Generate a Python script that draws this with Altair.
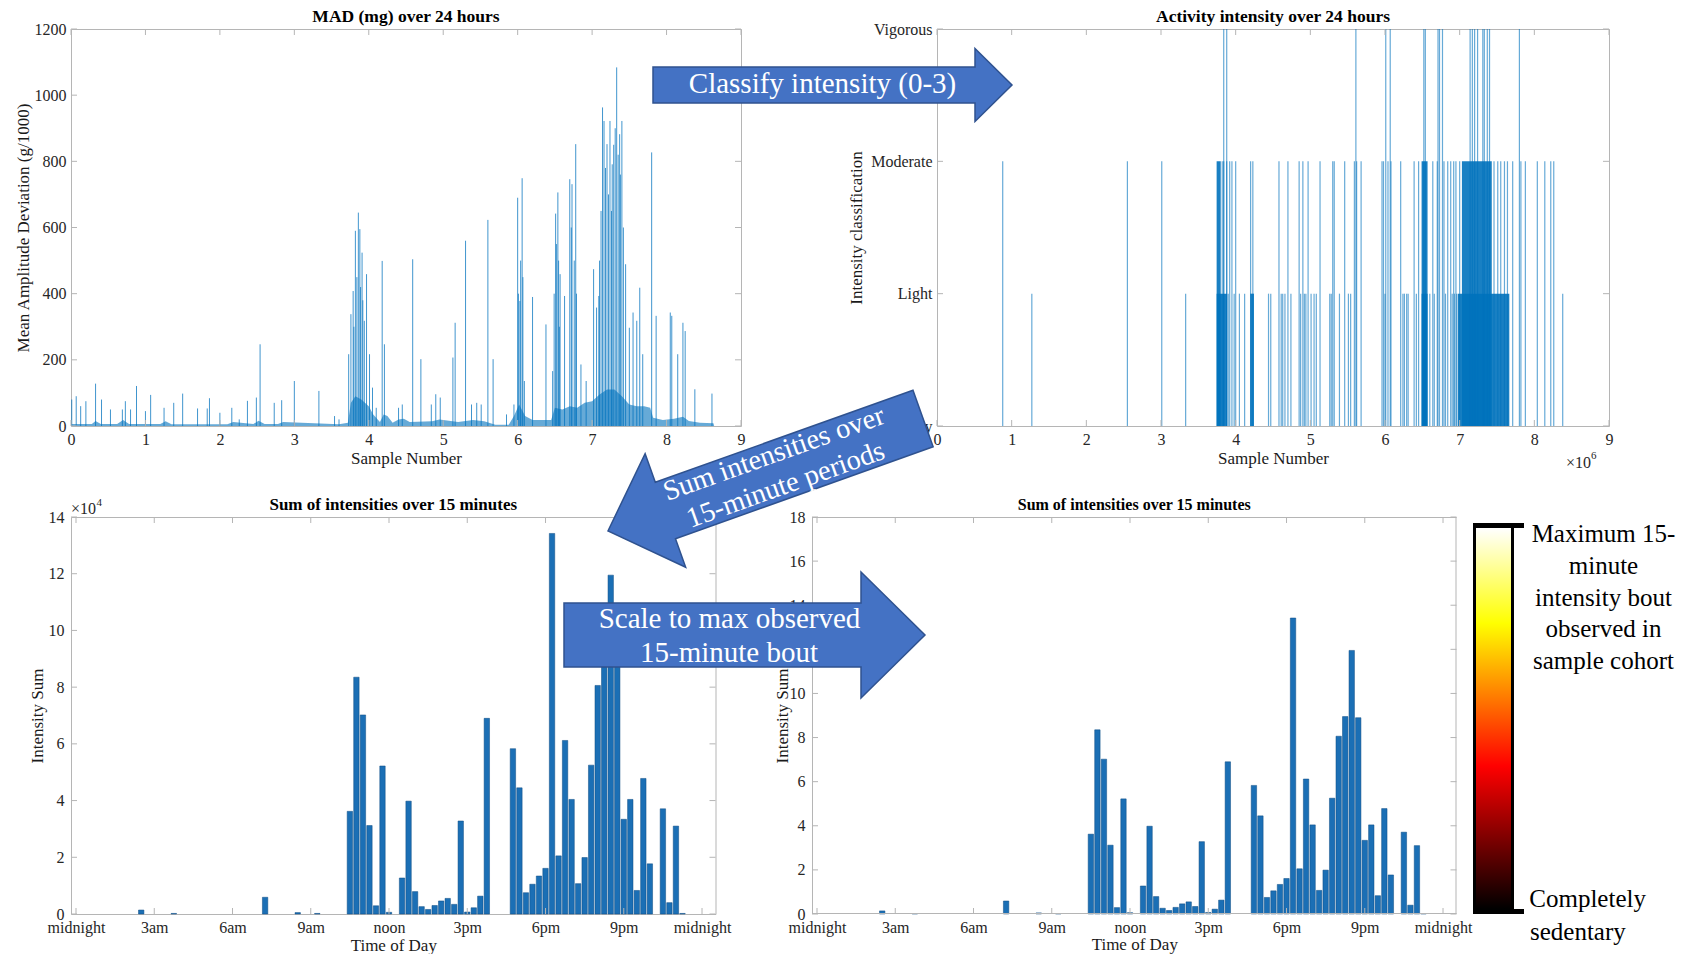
import altair as alt
import pandas as pd

SERIF = "Liberation Serif"
LINE_BLUE = "#0072BD"
BAR_FILL = "#1b6fb5"
BAR_EDGE = "#0d4a80"
FRAME = "#b5b5b5"
LABEL = "#262626"
ARROW_FILL = "#4472C4"
ARROW_EDGE = "#2F528F"

# ---------------- data ----------------
# Panel 1: MAD spikes (x in units of 1e6 samples, peak in mg)
mad_spike_x = [0.01, 0.07, 0.13, 0.20, 0.33, 0.41, 0.53, 0.69, 0.73, 0.80,
               0.88, 1.00, 1.07, 1.25, 1.38, 1.50, 1.70, 1.83, 1.86, 2.00,
               2.16, 2.26, 2.37, 2.49, 2.54, 2.73, 2.83, 3.00, 3.33, 3.54, 3.60,
               3.73, 3.76, 3.79, 3.82, 3.86, 3.88, 3.91, 3.94, 3.97, 4.01,
               4.05, 4.10, 4.18, 4.21, 4.40, 4.45,
               4.59, 4.70, 4.84, 4.90, 4.96, 5.13, 5.16, 5.30, 5.38, 5.45,
               5.51, 5.60, 5.67, 5.85, 5.95, 6.00, 6.03, 6.06, 6.09, 6.20,
               6.38, 6.47, 6.51, 6.54, 6.57, 6.63, 6.70, 6.73, 6.78, 6.85,
               6.92, 7.02, 7.06, 7.09, 7.14, 7.16, 7.20, 7.24, 7.27, 7.33,
               7.37, 7.40, 7.45, 7.50, 7.55, 7.60, 7.64, 7.68, 7.80, 7.86,
               8.05, 8.07, 8.15, 8.22, 8.25, 8.38, 8.61,
               3.80, 3.84, 3.89, 3.92, 6.01, 6.04, 6.07, 6.49, 6.52, 6.55, 6.56,
               6.72, 6.76, 6.79, 7.10, 7.12, 7.18, 7.22, 7.26, 7.29, 7.31, 7.35,
               7.38, 7.42]
mad_spike_peak = [80, 90, 60, 75, 128, 80, 50, 50, 75, 50,
                  121, 45, 94, 55, 70, 98, 53, 53, 84, 40,
                  55, 20, 76, 86, 247, 70, 78, 136, 106, 30, 20,
                  217, 338, 408, 590, 645, 595, 524, 318, 459, 217,
                  116, 55, 499, 247, 55, 65,
                  504, 202, 65, 96, 86, 207, 312, 560, 65, 70,
                  65, 623, 202, 35, 65, 690, 378, 749, 136, 390,
                  307, 166, 642, 706, 459, 393, 746, 731, 852, 186,
                  136, 474, 358, 393, 963, 922, 852, 922, 791, 1084,
                  882, 922, 489, 297, 343, 318, 418, 217, 827, 333,
                  343, 333, 217, 312, 287, 111, 98,
                  300, 450, 420, 380, 400, 500, 450, 400, 550, 500, 300,
                  600, 500, 400, 500, 650, 780, 700, 650, 850, 900, 820,
                  760, 600]
# dense low-level band under the spikes
mad_floor_x = [0.00, 0.28, 0.33, 0.40, 0.62, 0.70, 0.78, 1.20, 1.27, 1.35,
               2.10, 2.18, 2.45, 2.52, 2.60, 2.78, 2.85, 3.60, 3.72, 3.76,
               3.82, 3.90, 4.00, 4.06, 4.15, 4.20, 4.25, 4.32, 4.40, 4.47,
               4.55, 4.85, 4.95, 5.20, 5.40, 5.55, 5.70, 5.88, 5.95, 6.02,
               6.10, 6.20, 6.45, 6.50, 6.60, 6.70, 6.80, 6.90, 7.00, 7.10,
               7.20, 7.30, 7.40, 7.50, 7.60, 7.70, 7.78, 7.82, 7.95, 8.10,
               8.22, 8.30, 8.45, 8.63, 8.64]
mad_floor_level = [6, 6, 15, 6, 6, 18, 6, 6, 14, 5,
                   5, 12, 6, 16, 6, 6, 12, 5, 10, 70,
                   90, 80, 60, 35, 12, 35, 30, 10, 20, 22,
                   12, 14, 20, 12, 18, 14, 4, 4, 30, 65,
                   30, 18, 18, 55, 50, 60, 55, 70, 75, 95,
                   110, 110, 90, 65, 60, 60, 55, 25, 18, 22,
                   28, 15, 10, 8, 0]
sample_ticks = [0, 1, 2, 3, 4, 5, 6, 7, 8, 9]
mad_ticks = [0, 200, 400, 600, 800, 1000, 1200]

# Panel 2: intensity class lines (0 sedentary .. 3 vigorous)
light_only_x = [1.27, 3.33, 3.90, 3.98, 4.05, 4.12, 4.44, 4.47, 4.61, 4.63,
                4.66, 4.74, 4.87, 4.92, 4.94, 5.01, 5.05, 5.08, 5.26, 5.28,
                5.39, 5.51, 5.54, 6.00, 6.24, 6.26, 6.29, 6.31, 6.42, 6.60,
                6.66, 6.81, 6.90, 6.93, 6.96, 8.38]
moderate_x = [0.88, 2.55, 3.01, 3.82, 3.84, 3.88, 3.92, 3.95, 4.00, 4.20,
              4.23, 4.58, 4.70, 4.85, 4.90, 4.97, 5.13, 5.30, 5.32, 5.46,
              5.59, 5.62, 5.68, 5.96, 5.98, 6.04, 6.08, 6.21, 6.39, 6.45,
              6.64, 6.70, 6.79, 6.84, 6.88, 6.92, 6.95, 7.00, 7.46, 7.51,
              7.55, 7.60, 7.64, 7.71, 7.82, 7.88, 8.04, 8.14, 8.22, 8.26]
vigorous_x = [3.84, 3.88, 5.61, 6.01, 6.07, 6.52, 6.54, 6.71, 6.73, 6.77,
              7.14, 7.17, 7.20, 7.24, 7.31, 7.33, 7.37, 7.40, 7.80]
dense_start = [3.745, 3.745, 4.195, 6.49, 6.49, 6.975, 7.03]
dense_end = [3.80, 3.885, 4.245, 6.57, 6.57, 7.665, 7.43]
dense_level = [2, 1, 1, 2, 1, 1, 2]
class_ticks = [0, 1, 2, 3]
class_names = ["Sedentary", "Light", "Moderate", "Vigorous"]

# Panels 3 and 4: sum of intensities per 15-minute slot (units of 1e4)
intensity_sum = [0, 0, 0, 0, 0, 0, 0, 0, 0, 0, 0.14, 0,
                 0, 0, 0, 0.02, 0, 0, 0, 0, 0, 0, 0, 0,
                 0, 0, 0, 0, 0, 0.59, 0, 0, 0, 0, 0.05, 0,
                 0, 0.02, 0, 0, 0, 0, 3.62, 8.35, 7.02, 3.12, 0.29, 5.22,
                 0.06, 0, 1.27, 3.98, 0.79, 0.26, 0.16, 0.30, 0.46, 0.55, 0.34, 3.28,
                 0.07, 0.22, 0.63, 6.90, 0, 0, 0, 5.83, 4.45, 0.75, 1.05, 1.34,
                 1.61, 13.42, 2.05, 6.12, 4.04, 1.07, 1.99, 5.25, 8.06, 8.95, 11.95, 8.90,
                 3.34, 4.04, 0.83, 4.78, 1.77, 0, 3.71, 0.40, 3.10, 0.02, 0, 0]
slot_index = list(range(len(intensity_sum)))
time_ticks = [0, 12, 24, 36, 48, 60, 72, 84, 96]
time_names = ["midnight", "3am", "6am", "9am", "noon", "3pm", "6pm", "9pm", "midnight"]
sum_ticks_a = [0, 2, 4, 6, 8, 10, 12, 14]
sum_ticks_b = [0, 2, 4, 6, 8, 10, 12, 14, 16, 18]

# ---------------- helpers ----------------
ONE = alt.Data(values=[{"k": 0}])


def js_list(items):
    return "[" + ",".join('"' + s + '"' for s in items) + "]"


def tick_rules(X, Y, xt, yt, x0, x1, h, L=6):
    xdf = pd.DataFrame({"x": xt})
    ydf = pd.DataFrame({"y": yt})
    m = dict(color=FRAME, strokeWidth=1)
    return [
        alt.Chart(xdf).mark_rule(**m).encode(x=X, y=alt.value(0), y2=alt.value(L)),
        alt.Chart(xdf).mark_rule(**m).encode(x=X, y=alt.value(h - L), y2=alt.value(h)),
        alt.Chart(ydf).mark_rule(**m).encode(y=Y, x=alt.value(x0), x2=alt.value(x0 + L)),
        alt.Chart(ydf).mark_rule(**m).encode(y=Y, x=alt.value(x1 - L), x2=alt.value(x1)),
    ]


def txt(s, x, y, size, color="white", align="center", angle=0, weight="normal"):
    kw = dict(text=s, font=SERIF, fontSize=size, color=color, align=align,
              baseline="middle", fontWeight=weight)
    if angle:
        kw["angle"] = angle
    return alt.Chart(ONE).mark_text(**kw).encode(x=alt.value(x), y=alt.value(y))


def panel_title(s, cx, size):
    return txt(s, cx, -12, size, color="#000000", weight="bold")


def arrow(path, x, y, angle=0):
    kw = dict(shape=path, size=4, filled=True, fill=ARROW_FILL, stroke=ARROW_EDGE,
              strokeWidth=1.5, opacity=1, fillOpacity=1, strokeOpacity=1)
    if angle:
        kw["angle"] = angle
    return alt.Chart(ONE).mark_point(**kw).encode(x=alt.value(x), y=alt.value(y))


def box(x1, x2, y1, y2, fill):
    return alt.Chart(ONE).mark_rect(fill=fill, strokeWidth=0).encode(
        x=alt.value(x1), x2=alt.value(x2), y=alt.value(y1), y2=alt.value(y2))


def frame_lines(x0, x1, h):
    m = dict(color=FRAME, strokeWidth=1)
    return [
        alt.Chart(ONE).mark_rule(**m).encode(x=alt.value(x0), x2=alt.value(x1), y=alt.value(0.5)),
        alt.Chart(ONE).mark_rule(**m).encode(x=alt.value(x0), x2=alt.value(x1), y=alt.value(h - 0.5)),
        alt.Chart(ONE).mark_rule(**m).encode(x=alt.value(x0 + 0.5), y=alt.value(0), y2=alt.value(h)),
        alt.Chart(ONE).mark_rule(**m).encode(x=alt.value(x1 - 0.5), y=alt.value(0), y2=alt.value(h)),
    ]


def left_axis(values, title, tx, h, pad, fmt=None, expr=None, offset=0):
    kw = dict(values=values, labelPadding=pad, title=title, titleX=tx, titleY=h / 2,
              titleAngle=270, titleAlign="center", titleBaseline="middle")
    if fmt:
        kw["format"] = fmt
    if expr:
        kw["labelExpr"] = expr
    if offset:
        kw["offset"] = offset
    return alt.Axis(**kw)


def bottom_axis(values, title, cx, ty, fmt=None, expr=None):
    kw = dict(values=values, labelPadding=5, title=title, titleX=cx, titleY=ty,
              titleAlign="center", titleBaseline="middle")
    if fmt:
        kw["format"] = fmt
    if expr:
        kw["labelExpr"] = expr
    return alt.Axis(**kw)


H = 397

# ---------------- panel 1 ----------------
W1 = 670
X1 = alt.X("x:Q", scale=alt.Scale(domain=[0, 9], nice=False, zero=False),
           axis=bottom_axis(sample_ticks, "Sample Number", W1 / 2, 32.5, fmt="d"))
Y1 = alt.Y("y:Q", scale=alt.Scale(domain=[0, 1200], nice=False),
           axis=left_axis(mad_ticks, "Mean Amplitude Deviation (g/1000)", -47.5, H, 5, fmt="d"))
floor_df = pd.DataFrame({"x": mad_floor_x, "y": mad_floor_level})
spike_df = pd.DataFrame({"x": mad_spike_x, "y": mad_spike_peak})
anchor = box(-70, -69, -28, -27, "#ffffff")
p1 = alt.layer(
    alt.Chart(floor_df).mark_area(color=LINE_BLUE, opacity=0.6).encode(x=X1, y=Y1),
    alt.Chart(spike_df).mark_rule(color=LINE_BLUE, strokeWidth=1, opacity=0.75).encode(
        x=X1, y=Y1, y2=alt.datum(0)),
    *tick_rules(X1, Y1, sample_ticks, mad_ticks, 0, W1, H),
    panel_title("MAD (mg) over 24 hours", W1 / 2, 17.5),
    anchor,
).properties(width=W1, height=H)

# ---------------- panel 2 ----------------
W2 = 672
X2 = alt.X("x:Q", scale=alt.Scale(domain=[0, 9], nice=False, zero=False),
           axis=bottom_axis(sample_ticks, "Sample Number", W2 / 2, 32.5, fmt="d"))
Y2 = alt.Y("y:Q", scale=alt.Scale(domain=[0, 3], nice=False),
           axis=left_axis(class_ticks, "Intensity classification", -80.5, H, 5,
                          expr=js_list(class_names) + "[round(datum.value)]"))
class_df = pd.DataFrame({
    "x": light_only_x + moderate_x + vigorous_x,
    "y": [1] * len(light_only_x) + [2] * len(moderate_x) + [3] * len(vigorous_x),
})
dense_df = pd.DataFrame({"x": dense_start, "x_end": dense_end, "y": dense_level})
p2 = alt.layer(
    alt.Chart(dense_df).mark_rect(color=LINE_BLUE, opacity=0.9).encode(
        x=X2, x2="x_end:Q", y=Y2, y2=alt.datum(0)),
    alt.Chart(class_df).mark_rule(color=LINE_BLUE, strokeWidth=1.2, opacity=0.6).encode(
        x=X2, y=Y2, y2=alt.datum(0)),
    *tick_rules(X2, Y2, sample_ticks, class_ticks, 0, W2, H),
    panel_title("Activity intensity over 24 hours", W2 / 2, 17.5),
    txt("\u00d710", 629, 434, 16, color=LABEL, align="left"),
    txt("6", 654, 427, 11, color=LABEL, align="left"),
).properties(width=W2, height=H)

# ---------------- panels 3 and 4 ----------------
W3 = 644.5
bars_df = pd.DataFrame({"x": slot_index, "y": intensity_sum})
time_expr = js_list(time_names) + "[round(datum.value/12)]"


def bar_panel(yticks, ytitle_x, title_size, xtitle_y, x0, extra):
    """Bar panel whose plot frame runs from x0 to x0 + W3 inside its view."""
    x1 = x0 + W3
    X = alt.X("x:Q", scale=alt.Scale(domain=[0, 97.3], nice=False, zero=False, range=[x0, x1]),
              axis=bottom_axis(time_ticks, "Time of Day", x0 + W3 / 2, xtitle_y, expr=time_expr))
    Y = alt.Y("y:Q", scale=alt.Scale(domain=[0, yticks[-1]], nice=False),
              axis=left_axis(yticks, "Intensity Sum", ytitle_x, H, 7, fmt="d", offset=-x0))
    bars = alt.Chart(bars_df).transform_filter("datum.y > 0").mark_bar(
        size=5.4, color=BAR_FILL, stroke=BAR_EDGE, strokeWidth=0.5).encode(x=X, y=Y)
    layers = [bars, *tick_rules(X, Y, time_ticks, yticks, x0, x1, H),
              panel_title("Sum of intensities over 15 minutes", x0 + W3 / 2, title_size)]
    if x0:
        layers += frame_lines(x0, x1, H)
    return layers + extra


p3 = alt.layer(*bar_panel(sum_ticks_a, -33.7, 17, 31, 0, [
    txt("\u00d710", 0, -8.5, 16, color=LABEL, align="left"),
    txt("4", 25.5, -14, 11, color=LABEL, align="left"),
])).properties(width=W3, height=H)

# Panel 4 shares the second grid column with panel 2; its frame starts 125 px further left.
X0_4 = -125
ARROW_RIGHT_1 = "M-179.5,-18L142.5,-18L142.5,-36.5L179.5,0L142.5,36.5L142.5,18L-179.5,18Z"
ARROW_LEFT_2 = "M-167.3,0L-106.3,-60.3L-106.3,-30L167.3,-30L167.3,30L-106.3,30L-106.3,60.3Z"
ARROW_RIGHT_3 = "M-180.5,-32L116.5,-32L116.5,-63L180.5,0L116.5,63L116.5,32L-180.5,32Z"
hot_gradient = {
    "gradient": "linear", "x1": 0, "y1": 1, "x2": 0, "y2": 0,
    "stops": [
        {"offset": 0.0, "color": "#000000"},
        {"offset": 0.375, "color": "#ff0000"},
        {"offset": 0.75, "color": "#ffff00"},
        {"offset": 1.0, "color": "#ffffff"},
    ],
}
ROT = 340.35
d = X0_4
annotations = [
    arrow(ARROW_RIGHT_1, d + 20.5, -432),
    txt("Classify intensity (0-3)", d + 10.5, -433, 29),
    arrow(ARROW_LEFT_2, d - 46.5, -42.25, ROT),
    txt("Sum intensities over", d - 38.3, -63.5, 28.5, angle=ROT),
    txt("15-minute periods", d - 26.5, -32.5, 28.5, angle=ROT),
    arrow(ARROW_RIGHT_3, d - 67.5, 118),
    txt("Scale to max observed", d - 82.5, 102, 29),
    txt("15-minute bout", d - 83, 136, 29),
    box(d + 664, d + 699, 11, 392, hot_gradient),
    box(d + 661, d + 664, 6, 397, "#000000"),
    box(d + 699, d + 702, 6, 397, "#000000"),
    box(d + 661, d + 712, 6, 11, "#000000"),
    box(d + 661, d + 712, 392, 397, "#000000"),
    txt("Maximum 15-", d + 791.5, 17.3, 25, color="#000000"),
    txt("minute", d + 791.5, 49, 25, color="#000000"),
    txt("intensity bout", d + 791.5, 80.7, 25, color="#000000"),
    txt("observed in", d + 791.5, 112.3, 25, color="#000000"),
    txt("sample cohort", d + 791.5, 144, 25, color="#000000"),
    txt("Completely", d + 717.3, 382.3, 25, color="#000000", align="left"),
    txt("sedentary", d + 718, 414.7, 25, color="#000000", align="left"),
]
p4 = alt.layer(*bar_panel(sum_ticks_b, -30, 16, 30, X0_4, annotations)).properties(
    width=W3 + X0_4, height=H, view=alt.ViewBackground(strokeOpacity=0))

chart = alt.concat(
    p1, p2, p3, p4,
    columns=2,
    spacing={"row": 91, "column": 196},
    bounds="flush",
).properties(padding=0)

chart = chart.configure(font=SERIF).configure_view(stroke=FRAME, strokeWidth=1).configure_axis(
    domain=False, ticks=False, grid=False, labelFlush=False, labelOverlap=False,
    labelFont=SERIF, labelFontSize=16, labelColor=LABEL,
    titleFont=SERIF, titleFontSize=17, titleFontWeight="normal", titleColor="#1a1a1a",
)

chart.save("out.html", embed_options={"renderer": "svg", "actions": False})
